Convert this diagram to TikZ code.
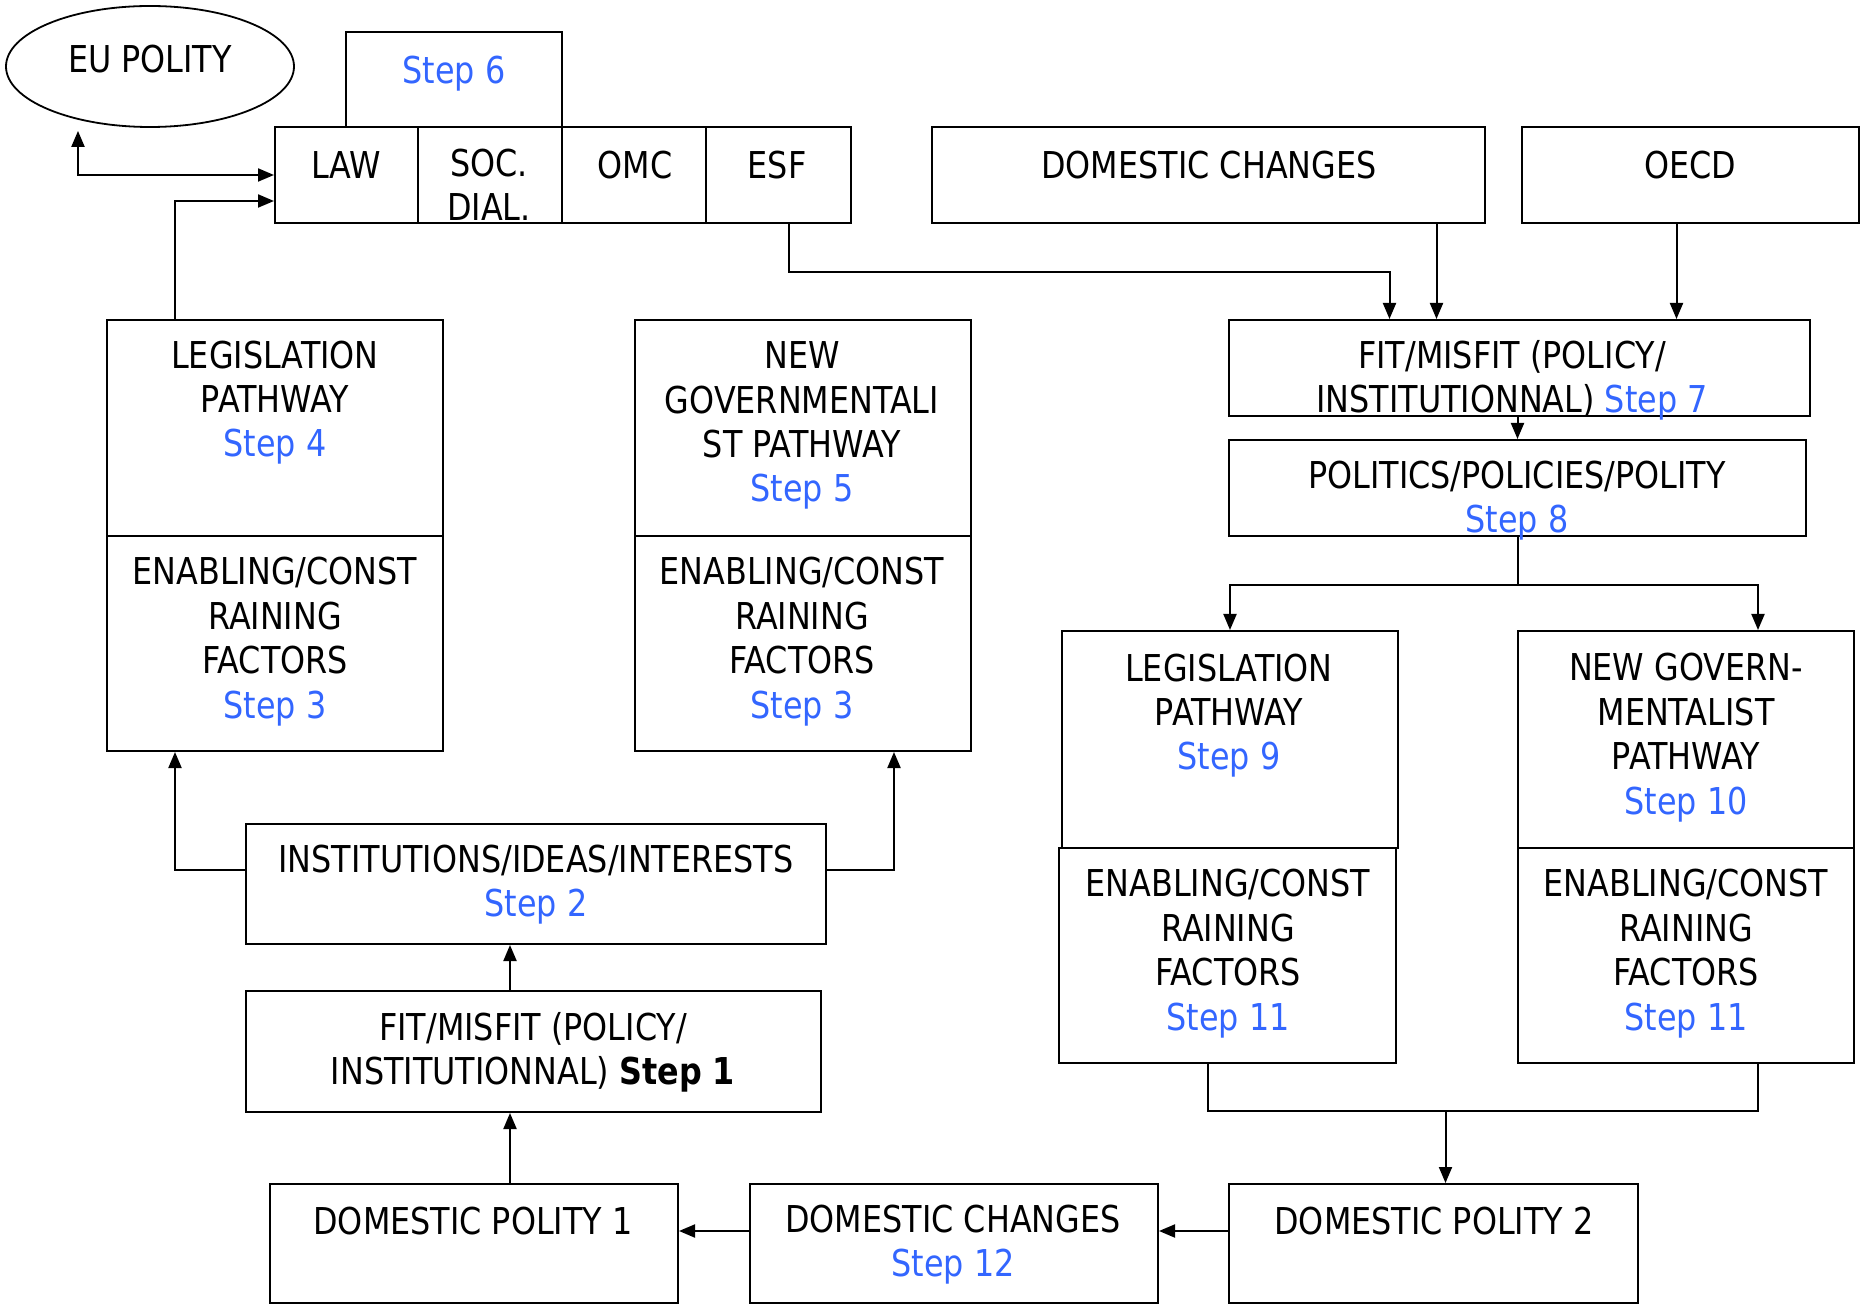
\documentclass[tikz,border=0pt]{standalone}
\usepackage{fontspec}
\setmainfont{DejaVu Sans}[FakeStretch=0.86]
\usetikzlibrary{arrows.meta,calc,fit,shapes.geometric}
\definecolor{stepblue}{RGB}{51,102,255}
\newcommand\stp[1]{\textcolor{stepblue}{#1}}
\begin{document}
\begin{tikzpicture}[x=0.5pt,y=-0.5pt,
 box/.style={draw,line width=1pt,inner sep=0pt},
 txt/.style={align=center,inner sep=0pt,yshift=-1.2pt,font=\fontsize{18.5}{22.2}\selectfont,execute at begin node=\strut,execute at end node=\strut},
 tip/.tip={Triangle[length=8pt,width=6.5pt]},
 arr/.style={line width=1pt,-tip},
 ln/.style={line width=1pt}]
\useasboundingbox[fill=white] (0,0) rectangle (1864,1304);

% boxes
\node[draw,line width=0.9pt,ellipse,minimum width=144pt,minimum height=60.5pt,inner sep=0pt] (eu) at (150,66.5) {};
\node[box,fit={(346,32)(562,127)}] (s6) {};
\node[box,fit={(275,127)(418,223)}] (law) {};
\node[box,fit={(418,127)(562,223)}] (soc) {};
\node[box,fit={(562,127)(706,223)}] (omc) {};
\node[box,fit={(706,127)(851,223)}] (esf) {};
\node[box,fit={(932,127)(1485,223)}] (dct) {};
\node[box,fit={(1522,127)(1859,223)}] (oecd) {};
\node[box,fit={(1229,320)(1810,416)}] (fit7) {};
\node[box,fit={(1229,440)(1806,536)}] (pol) {};
\node[box,fit={(107,320)(443,536)}] (leg4) {};
\node[box,fit={(107,536)(443,751)}] (en3L) {};
\node[box,fit={(635,320)(971,536)}] (ng5) {};
\node[box,fit={(635,536)(971,751)}] (en3R) {};
\node[box,fit={(246,824)(826,944)}] (inst) {};
\node[box,fit={(246,991)(821,1112)}] (fit1) {};
\node[box,fit={(270,1184)(678,1303)}] (dp1) {};
\node[box,fit={(750,1184)(1158,1303)}] (dc12) {};
\node[box,fit={(1229,1184)(1638,1303)}] (dp2) {};
\node[box,fit={(1062,631)(1398,848)}] (leg9) {};
\node[box,fit={(1059,848)(1396,1063)}] (en11L) {};
\node[box,fit={(1518,631)(1854,848)}] (ng10) {};
\node[box,fit={(1518,848)(1854,1063)}] (en11R) {};

% texts
\node[txt] (teu) at (150,61) {EU POLITY};
\node[txt] (ts6) at (454,72) {\stp{Step 6}};
\node[txt] (tlaw) at (346,167) {LAW};
\node[txt] (tsoc) at (489,189) {SOC.\\DIAL.};
\node[txt] (tomc) at (635,167) {OMC};
\node[txt] (tesf) at (777,167) {ESF};
\node[txt] (tdct) at (1209,167) {DOMESTIC CHANGES};
\node[txt] (toecd) at (1690,167) {OECD};
\node[txt] (tfit7) at (1512,381) {FIT/MISFIT (POLICY/\\INSTITUTIONNAL) \stp{Step 7}};
\node[txt] (tpol) at (1517,501) {POLITICS/POLICIES/POLITY\\\stp{Step 8}};
\node[txt] (tleg4) at (275,403) {LEGISLATION\\PATHWAY\\\stp{Step 4}};
\node[txt] (ten3L) at (275,642) {ENABLING/CONST\\RAINING\\FACTORS\\\stp{Step 3}};
\node[txt] (tng5) at (802,426) {NEW\\GOVERNMENTALI\\ST PATHWAY\\\stp{Step 5}};
\node[txt] (ten3R) at (802,642) {ENABLING/CONST\\RAINING\\FACTORS\\\stp{Step 3}};
\node[txt] (tinst) at (536,885) {INSTITUTIONS/IDEAS/INTERESTS\\\stp{Step 2}};
\node[txt] (tfit1) at (533,1053) {FIT/MISFIT (POLICY/\\INSTITUTIONNAL) \textbf{Step 1}};
\node[txt] (tdp1) at (473,1223) {DOMESTIC POLITY 1};
\node[txt] (tdc12) at (953,1245) {DOMESTIC CHANGES\\\stp{Step 12}};
\node[txt] (tdp2) at (1434,1223) {DOMESTIC POLITY 2};
\node[txt] (tleg9) at (1229,716) {LEGISLATION\\PATHWAY\\\stp{Step 9}};
\node[txt] (tng10) at (1686,738) {NEW GOVERN-\\MENTALIST\\PATHWAY\\\stp{Step 10}};
\node[txt] (ten11L) at (1228,954) {ENABLING/CONST\\RAINING\\FACTORS\\\stp{Step 11}};
\node[txt] (ten11R) at (1686,954) {ENABLING/CONST\\RAINING\\FACTORS\\\stp{Step 11}};

% connectors
\coordinate (e1) at ($(esf.south)+(10,0)$);
\coordinate (f7a) at ($(fit7.north)+(-130,0)$);
\draw[arr] (e1) -- ++(0,48) -| (f7a);
\coordinate (d1) at ($(dct.south)+(228,0)$);
\draw[arr] (d1) -- (d1 |- fit7.north);
\coordinate (o1) at ($(oecd.south)+(-14,0)$);
\draw[arr] (o1) -- (o1 |- fit7.north);
\draw[arr] (fit7.south -| pol.north) -- (pol.north);
\coordinate (p1) at ($(pol.south)+(0,48)$);
\draw[ln] (pol.south) -- (p1);
\draw[arr] (p1) -| (leg9.north);
\coordinate (n10a) at ($(ng10.north)+(72,0)$);
\draw[arr] (p1) -| (n10a);
\coordinate (m1) at ($(en11L.south)+(-20,0)$);
\coordinate (m2) at ($(en11R.south)+(72,0)$);
\coordinate (m3) at ($(dp2.north)+(12,-72)$);
\draw[ln] (m1) |- (m3) -| (m2);
\draw[arr] (m3) -- (m3 |- dp2.north);
\coordinate (q1) at ($(dp2.north west)+(0,48)$);
\draw[arr] (q1) -- (dc12.east |- q1);
\coordinate (q2) at ($(dc12.north west)+(0,48)$);
\draw[arr] (q2) -- (dp1.east |- q2);
\coordinate (r1) at ($(dp1.north)+(36,0)$);
\draw[arr] (r1) -- (r1 |- fit1.south);
\coordinate (r2) at (r1 |- fit1.north);
\draw[arr] (r2) -- (r2 |- inst.south);
\coordinate (s1) at ($(inst.north west)+(0,47)$);
\coordinate (s2) at ($(en3L.south)+(-100,0)$);
\draw[arr] (s1) -| (s2);
\coordinate (s3) at ($(inst.north east)+(0,47)$);
\coordinate (s4) at ($(en3R.south)+(91,0)$);
\draw[arr] (s3) -| (s4);
\coordinate (t1) at ($(leg4.north)+(-100,0)$);
\coordinate (t2) at ($(law.south west)+(0,-23)$);
\draw[arr] (t1) |- (t2);
\coordinate (u1) at ($(law.north west)+(0,49)$);
\coordinate (u2) at ($(eu.south)+(-72,3)$);
\draw[line width=1pt,tip-tip] (u2) |- (u1);
\end{tikzpicture}
\end{document}
